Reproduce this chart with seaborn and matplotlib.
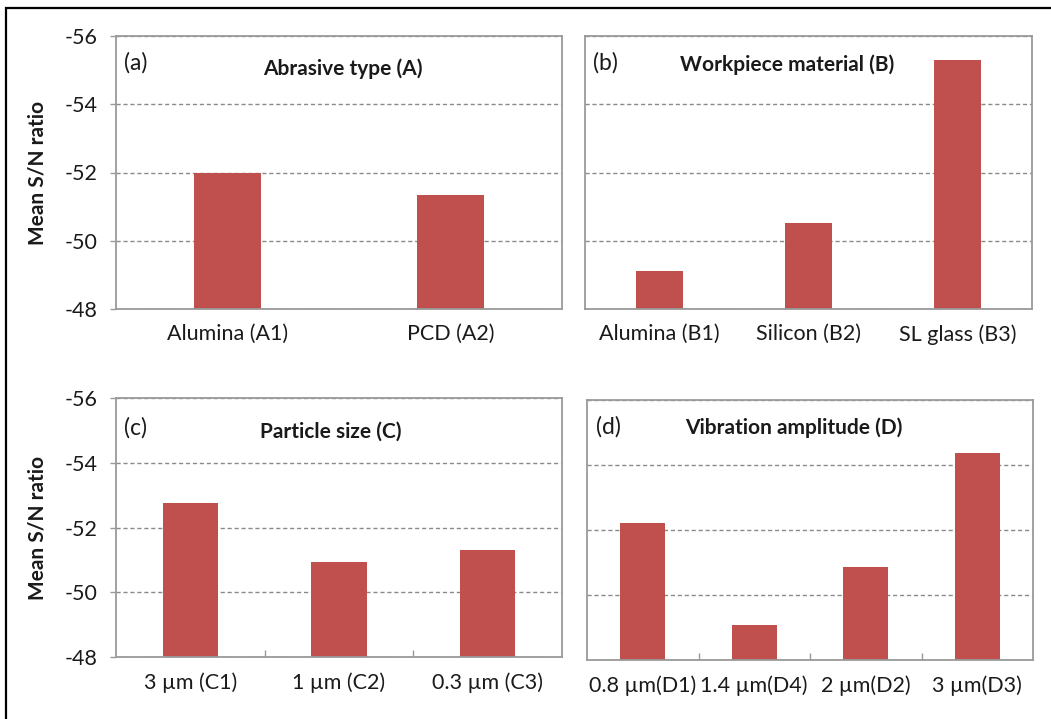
import matplotlib
matplotlib.use("Agg")
import matplotlib.pyplot as plt
import seaborn as sns
import pandas as pd
from matplotlib.patches import Rectangle

# ---- data ----
cats_a = ["Alumina (A1)", "PCD (A2)"]
vals_a = [-52.00, -51.35]
cats_b = ["Alumina (B1)", "Silicon (B2)", "SL glass (B3)"]
vals_b = [-49.10, -50.51, -55.31]
cats_c = ["3 µm (C1)", "1 µm (C2)", "0.3 µm (C3)"]
vals_c = [-52.77, -50.92, -51.29]
cats_d = ["0.8 µm(D1)", "1.4 µm(D4)", "2 µm(D2)", "3 µm(D3)"]
vals_d = [-52.22, -49.08, -50.85, -54.38]
titles = ["Abrasive type (A)", "Workpiece material (B)", "Particle size (C)", "Vibration amplitude (D)"]
letters = ["(a)", "(b)", "(c)", "(d)"]
yticks = [-56, -54, -52, -50, -48]

sns.set_theme(style="white")
plt.rcParams["font.family"] = ["Lato", "DejaVu Sans"]
plt.rcParams["axes.unicode_minus"] = False

W, H = 1051, 719
fig = plt.figure(figsize=(W / 100, H / 100), dpi=100)
fig.patch.set_facecolor("white")

BAR = "#C0504D"
GRID = "#8a8a8a"
SPINE = "#9a9a9a"
TXT = "#1a1a1a"
FS_TICK = 15.5
FS_TITLE = 15
FS_LETTER = 16.5

# panel geometry in pixels (left, top, right, bottom), bar width, title pos, letter pos
panels = [
    dict(box=(116, 36, 562, 309), cats=cats_a, vals=vals_a, w=0.30, tpos=(343, 69), lpos=(124, 63), ylab=True, minor=False),
    dict(box=(585, 36, 1032, 309), cats=cats_b, vals=vals_b, w=0.32, tpos=(787, 65), lpos=(593, 63), ylab=False, minor=False),
    dict(box=(116, 398, 562, 657), cats=cats_c, vals=vals_c, w=0.37, tpos=(331, 432), lpos=(124, 428), ylab=True, minor=True),
    dict(box=(587, 400, 1033, 660), cats=cats_d, vals=vals_d, w=0.40, tpos=(794, 428), lpos=(596, 427), ylab=False, minor=True),
]

for i, p in enumerate(panels):
    l, t, r, b = p["box"]
    ax = fig.add_axes([l / W, 1 - b / H, (r - l) / W, (b - t) / H])
    df = pd.DataFrame({"cat": p["cats"], "val": p["vals"]})
    sns.barplot(data=df, x="cat", y="val", ax=ax, color=BAR, saturation=1,
                width=p["w"], linewidth=0, zorder=2)
    ax.set_ylim(-48, -56)
    ax.set_xlim(-0.5, len(p["cats"]) - 0.5)
    ax.set_yticks(yticks)
    ax.set_axisbelow(True)
    ax.yaxis.grid(True, linestyle=(0, (3, 2)), color=GRID, linewidth=1.0, zorder=0)
    ax.xaxis.grid(False)
    for s in ax.spines.values():
        s.set_color(SPINE)
        s.set_linewidth(1.3)
        s.set_visible(True)
    ax.set_xlabel("")
    ax.tick_params(axis="x", which="major", length=0, pad=11, labelsize=FS_TICK, colors=TXT)
    if p["ylab"]:
        ax.set_ylabel("Mean S/N ratio", fontsize=FS_TITLE, fontweight="bold", color=TXT)
        ax.yaxis.set_label_coords((48 - l) / (r - l), 0.5)
        ax.tick_params(axis="y", which="major", left=True, length=4, width=1, color=SPINE,
                       pad=9, labelsize=FS_TICK, labelcolor=TXT)
    else:
        ax.set_ylabel("")
        ax.tick_params(axis="y", left=False, labelleft=False)
    if p["minor"]:
        ax.set_xticks([k + 0.5 for k in range(len(p["cats"]) - 1)], minor=True)
        ax.tick_params(axis="x", which="minor", bottom=True, direction="in", length=5,
                       width=1, color=SPINE)
    tx, ty = p["tpos"]
    ax.text((tx - l) / (r - l), 1 - (ty - t) / (b - t), titles[i], transform=ax.transAxes,
            ha="center", va="center", fontsize=FS_TITLE, fontweight="bold", color=TXT)
    lx, ly = p["lpos"]
    ax.text((lx - l) / (r - l), 1 - (ly - t) / (b - t), letters[i], transform=ax.transAxes,
            ha="left", va="center", fontsize=FS_LETTER, color=TXT)

# outer frame (only left and top edges visible in the reference)
fig.add_artist(Rectangle((6 / W, -0.2), 1.2, 1.2 - 8 / H, transform=fig.transFigure,
                         fill=False, edgecolor="black", linewidth=1.6, zorder=10))

fig.savefig("out.png", dpi=100, facecolor="white")
